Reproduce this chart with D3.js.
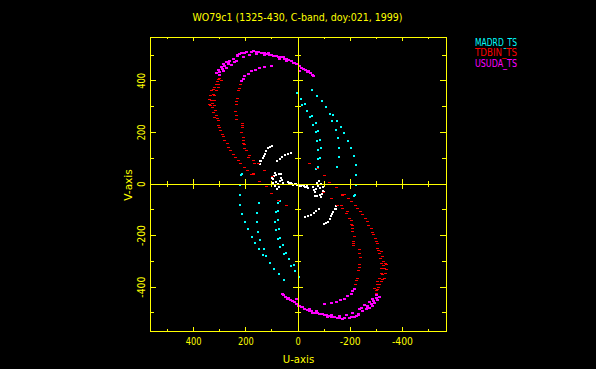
<!DOCTYPE html>
<html>
<head>
<meta charset="utf-8">
<script src="https://cdn.jsdelivr.net/npm/d3@7"></script>
<style>
  html, body { margin: 0; padding: 0; background: #000; }
  svg { display: block; }
</style>
</head>
<body>
<svg id="chart" width="596" height="369"></svg>
<script>
// uv points (one half of each track, in the units of the axes); the conjugate half is (-u,-v)
let madrdPts = [
  [2,357],[-10,335],[-17,309],[-27,314],[-36,288],[-46,262],[-55,266],[-57,234],[-68,239],
  [-68,204],[-78,208],[-83,176],[-74,169],[-87,143],[-78,137],[-83,105],[-78,102],[-78,69],[-70,63],
  [-55,367],[-74,346],[-91,324],[-106,301],[-121,275],[-131,247],[-144,214],[-177,200],[-191,172],
  [-203,143],[-214,111],[-221,76],[-223,40],[-222,1],
  [-134,270],[-149,249],[-165,226],[-153,182],[-157,143],[-157,107],[-149,69],
  [217,37],[216,41]
];
let tdbinPts = [
  [299,421],[306,408],[312,389],[303,389],[319,376],[306,376],[331,363],[312,363],[335,344],[319,344],
  [331,324],[319,324],[335,305],[319,305],[315,286],[312,266],[306,247],[299,221],[289,195],[280,169],
  [267,143],[248,118],[229,92],[204,66],[178,40],[169,40],[293,402],[322,350],[327,300],[309,255],
  [325,370],[338,330],[328,315],[340,310],[325,280],[318,260],[305,230],[295,210],[285,185],[272,160],
  [258,130],[240,105],[222,80],[195,55],[310,400],[300,410],
  [220,389],[225,373],[229,363],[233,335],[236,311],[238,283],[236,253],[213,236],[213,221],[217,202],
  [210,182],[204,156],[197,131],[185,111],[172,94],[153,81],[234,322],[237,268],[211,228],[207,170],
  [210,158],[204,138],[191,106],[166,83],[172,41],[127,54],[99,31],[146,12],[127,56],
  [-45,83],[-73,61],[-102,35],[-121,8]
];
let usudaPts = [
  [312,434],[306,447],[293,456],[284,469],[274,477],[261,482],[248,490],[233,505],[217,512],[197,514],
  [178,516],[159,516],[140,512],[121,509],[102,505],[83,499],[64,495],[44,488],[25,479],[6,469],[-7,460],
  [287,441],[274,454],[255,466],[236,482],[210,495],[185,503],[159,508],[127,505],[95,499],[70,490],[44,479],
  [299,425],[268,473],[223,508],[114,512],[57,495],[19,473],
  [230,500],[205,510],[170,518],[150,515],[130,510],[110,506],[90,502],[75,497],[52,490],[35,484],
  [15,475],[-20,450],[-48,433],[290,450],[300,438],[280,460],[265,470],[245,478],
  [2,469],[-14,454],[-29,447],[-42,441],[-55,428],[-61,424],[-4,443],[-36,438],
  [217,402],[210,411],[204,421],[191,430],[178,441],[162,447],[146,454],[127,457],[102,463]
];
let groundPts = [
  [144,83],[140,93],[136,103],[131,112],[127,121],[121,132],[115,142],[108,149],[98,151],[146,93],
  [79,93],[70,102],[60,110],[50,115],[38,119],[28,123],
  [89,48],[92,35],[95,22],[95,9],[89,-4],[80,-14],[72,41],[67,28],[70,15],[76,5],[72,-8],[64,41],[57,9],
  [85,40],[98,28],[83,12],[62,20],
  [32,9],[28,6],[23,2],[13,5],[4,0],[36,5],[40,12],[18,0],[8,3]
];

let seriesNames = ["MADRD_TS", "TDBIN_TS", "USUDA_TS"];
let seriesColors = ["#00ffff", "#ff0000", "#ff00ff"];
let titleText = "WO79c1 (1325-430, C-band, doy:021, 1999)";
let tickValues = [-400, -200, 0, 200, 400];
let minorValues = [-500, -400, -300, -200, -100, 0, 100, 200, 300, 400, 500];

let svg = d3.select("#chart");
let charW = 5.25;

let x = d3.scaleLinear().domain([567, -567]).range([150, 446]);
let y = d3.scaleLinear().domain([-570, 570]).range([331, 37]);

function withConj(pts){
  return pts.concat(pts.map(p => [-p[0], -p[1]]));
}

let plot = svg.append("g");

// points
let tracks = [
  {pts: withConj(groundPts), color: "#ffffff", w: 2, h: 2},
  {pts: withConj(madrdPts), color: seriesColors[0], w: 2, h: 2},
  {pts: withConj(tdbinPts), color: seriesColors[1], w: 3, h: 1},
  {pts: withConj(usudaPts), color: seriesColors[2], w: 3, h: 2}
];
tracks.forEach(t => {
  plot.selectAll(null)
    .data(t.pts)
    .enter()
    .append("rect")
    .attr("x", d => Math.round(x(d[0]) - t.w/2))
    .attr("y", d => Math.round(y(d[1])))
    .attr("width", t.w)
    .attr("height", t.h)
    .attr("fill", t.color)
    .attr("shape-rendering", "crispEdges");
});

// frame + zero axes
let yel = "#ffff00";
let ax = svg.append("g").attr("stroke", yel).attr("stroke-width", 1).attr("shape-rendering", "crispEdges");
ax.append("rect")
  .attr("x", x(567)).attr("y", y(570))
  .attr("width", x(-567) - x(567)).attr("height", y(-570) - y(570))
  .attr("fill", "none");
ax.append("line").attr("x1", x(567)).attr("x2", x(-567)).attr("y1", y(0)).attr("y2", y(0));
ax.append("line").attr("x1", x(0)).attr("x2", x(0)).attr("y1", y(570)).attr("y2", y(-570));

minorValues.forEach(v => {
  let major = v % 200 == 0;
  let hl = major ? 4 : 2;   // top/bottom tick length
  let vl = major ? 6 : 4;   // left/right tick length
  let c = major ? 5 : 3;    // half length on the zero axes
  // bottom / top
  ax.append("line").attr("x1", x(v)).attr("x2", x(v)).attr("y1", y(-570)).attr("y2", y(-570) - hl);
  ax.append("line").attr("x1", x(v)).attr("x2", x(v)).attr("y1", y(570)).attr("y2", y(570) + hl);
  // left / right
  ax.append("line").attr("y1", y(v)).attr("y2", y(v)).attr("x1", x(567)).attr("x2", x(567) + vl);
  ax.append("line").attr("y1", y(v)).attr("y2", y(v)).attr("x1", x(-567)).attr("x2", x(-567) - vl);
  // zero axes
  if (v != 0) {
    ax.append("line").attr("x1", x(v)).attr("x2", x(v)).attr("y1", y(0) - c).attr("y2", y(0) + c);
    ax.append("line").attr("y1", y(v)).attr("y2", y(v)).attr("x1", x(0) - c).attr("x2", x(0) + c);
  }
});

let font = "DejaVu Sans, sans-serif";
function label(g, txt, size){
  return g.append("text")
    .attr("fill", yel)
    .attr("font-family", font)
    .attr("font-size", size)
    .attr("textLength", txt.length * charW)
    .attr("lengthAdjust", "spacingAndGlyphs")
    .text(txt);
}

// tick labels
tickValues.forEach(v => {
  label(svg, String(v), 11)
    .attr("x", x(v)).attr("y", 344.5).attr("text-anchor", "middle");
  label(svg, String(v), 11)
    .attr("text-anchor", "middle")
    .attr("transform", "translate(145," + y(v) + ") rotate(-90)");
});

label(svg, "U-axis", 10).attr("x", 298.5).attr("y", 362.5).attr("text-anchor", "middle");
label(svg, "V-axis", 10).attr("text-anchor", "middle").attr("transform", "translate(132,185) rotate(-90)");

label(svg, titleText, 11).attr("x", 297.5).attr("y", 20.5).attr("text-anchor", "middle");

// legend
seriesNames.forEach((n, i) => {
  label(svg, n, 10)
    .attr("x", 475).attr("y", 45.5 + i * 10.5)
    .attr("fill", seriesColors[i]);
});
</script>
</body>
</html>
